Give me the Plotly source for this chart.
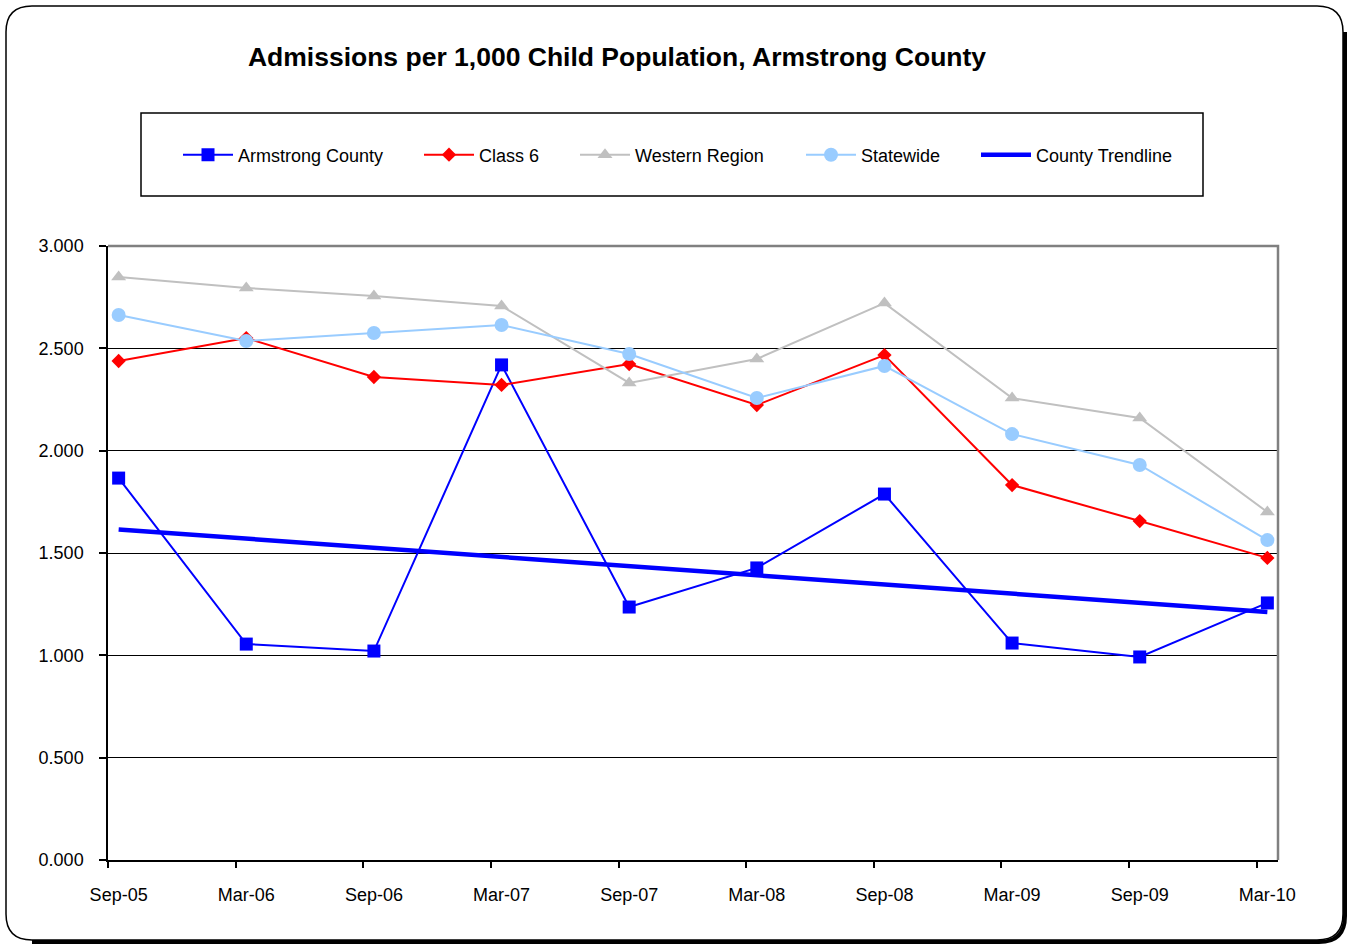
import plotly.graph_objects as go

# ---------------- data ----------------
categories = ["Sep-05", "Mar-06", "Sep-06", "Mar-07", "Sep-07",
              "Mar-08", "Sep-08", "Mar-09", "Sep-09", "Mar-10"]
armstrong = [1.866, 1.055, 1.021, 2.419, 1.236, 1.427, 1.788, 1.060, 0.992, 1.256]
class6 = [2.438, 2.550, 2.360, 2.321, 2.423, 2.223, 2.467, 1.832, 1.656, 1.476]
western = [2.849, 2.795, 2.756, 2.707, 2.331, 2.448, 2.721, 2.257, 2.160, 1.700]
statewide = [2.663, 2.536, 2.575, 2.614, 2.472, 2.257, 2.414, 2.081, 1.930, 1.563]
trend_cats = ["Sep-05", "Mar-10"]
trend_vals = [1.615, 1.212]
y_ticks = [0, 0.5, 1.0, 1.5, 2.0, 2.5, 3.0]

# ---------------- geometry helpers (pixel -> paper) ----------------
W, H = 1354, 947
L, R, T, B = 108, 1278, 246, 860


def X(px):
    return (px - L) / (R - L)


def Y(py):
    return (B - py) / (B - T)


x_idx = list(range(len(categories)))
trend_x = [categories.index(c) for c in trend_cats]

FONT = "Arial, Liberation Sans, sans-serif"

fig = go.Figure()
fig.add_trace(go.Scatter(
    x=x_idx, y=armstrong, name="Armstrong County", mode="lines+markers",
    line=dict(color="#0000FF", width=2),
    marker=dict(symbol="square", size=13, color="#0000FF"),
    legend="legend"))
fig.add_trace(go.Scatter(
    x=x_idx, y=class6, name="Class 6", mode="lines+markers",
    line=dict(color="#FF0000", width=2),
    marker=dict(symbol="diamond", size=11, color="#FF0000"),
    legend="legend2"))
fig.add_trace(go.Scatter(
    x=x_idx, y=western, name="Western Region", mode="lines+markers",
    line=dict(color="#C0C0C0", width=2),
    marker=dict(symbol="triangle-up", size=13, color="#C0C0C0"),
    legend="legend3"))
fig.add_trace(go.Scatter(
    x=x_idx, y=statewide, name="Statewide", mode="lines+markers",
    line=dict(color="#99CCFF", width=2),
    marker=dict(symbol="circle", size=14, color="#99CCFF"),
    legend="legend4"))
fig.add_trace(go.Scatter(
    x=trend_x, y=trend_vals, name="County Trendline", mode="lines",
    line=dict(color="#0000FF", width=4.5),
    legend="legend5"))

ITEMW = 50
leg_common = dict(orientation="h", yanchor="middle", xanchor="left",
                  y=Y(155), bgcolor="rgba(0,0,0,0)", borderwidth=0,
                  itemwidth=ITEMW,
                  font=dict(family=FONT, size=18, color="black"))
text_starts = [238, 479, 635, 861, 1036]
legends = {}
for i, ts in enumerate(text_starts):
    key = "legend" if i == 0 else f"legend{i+1}"
    legends[key] = dict(leg_common, x=X(ts - (ITEMW + 10)))


def rounded_path(x0, y0, x1, y1, r):
    return (f"M {X(x0 + r)},{Y(y0)} L {X(x1 - r)},{Y(y0)} "
            f"Q {X(x1)},{Y(y0)} {X(x1)},{Y(y0 + r)} "
            f"L {X(x1)},{Y(y1 - r)} Q {X(x1)},{Y(y1)} {X(x1 - r)},{Y(y1)} "
            f"L {X(x0 + r)},{Y(y1)} Q {X(x0)},{Y(y1)} {X(x0)},{Y(y1 - r)} "
            f"L {X(x0)},{Y(y0 + r)} Q {X(x0)},{Y(y0)} {X(x0 + r)},{Y(y0)} Z")


rr = 26
shapes = [
    # outer chart frame
    dict(type="path", xref="paper", yref="paper",
         path=rounded_path(6, 6, 1343, 940, rr),
         line=dict(color="black", width=1.5), layer="below"),
    # frame shadow right/bottom
    dict(type="path", xref="paper", yref="paper",
         path=(f"M {X(1345)},{Y(6 + rr)} L {X(1345)},{Y(942 - rr)} "
               f"Q {X(1345)},{Y(942)} {X(1345 - rr)},{Y(942)} L {X(6 + rr)},{Y(942)}"),
         line=dict(color="black", width=4), layer="below"),
    # legend box
    dict(type="rect", xref="paper", yref="paper",
         x0=X(141), x1=X(1203), y0=Y(196), y1=Y(113),
         line=dict(color="black", width=1.5), layer="below"),
    # grey plot-area border (top / right)
    dict(type="path", xref="paper", yref="paper",
         path=f"M {X(L)},{Y(T)} L {X(R)},{Y(T)} L {X(R)},{Y(B)}",
         line=dict(color="#808080", width=2.5), layer="above"),
]

fig.update_layout(
    width=W, height=H,
    margin=dict(l=L, r=W - R, t=T, b=H - B, autoexpand=False),
    paper_bgcolor="white", plot_bgcolor="white",
    font=dict(family=FONT, size=18, color="black"),
    title=dict(text="<b>Admissions per 1,000 Child Population, Armstrong County</b>",
               x=617 / W, xanchor="center", xref="container",
               y=1 - 57 / H, yanchor="middle", yref="container",
               font=dict(family=FONT, size=26.5, color="black")),
    shapes=shapes,
    showlegend=True,
    **legends,
)

fig.update_xaxes(
    type="linear", range=[-1 / 12, 9 + 1 / 12],
    tickmode="array", tickvals=x_idx, ticktext=categories,
    ticks="", showgrid=False, zeroline=False,
    showline=True, linecolor="black", linewidth=1.5,
    tickfont=dict(family=FONT, size=18, color="black"),
    ticklabelstandoff=18,
    minor=dict(tickmode="array", tickvals=[i - 1 / 12 for i in x_idx],
               ticks="outside", ticklen=6, tickwidth=1.5, tickcolor="black",
               showgrid=False),
)
fig.update_yaxes(
    range=[0, 3], tickmode="array", tickvals=y_ticks, tickformat=".3f",
    showgrid=True, gridcolor="black", gridwidth=1,
    zeroline=False, showline=True, linecolor="black", linewidth=1.5,
    ticks="outside", ticklen=7, tickcolor="black", tickwidth=1.5,
    tickfont=dict(family=FONT, size=18, color="black"),
    ticklabelstandoff=12,
)

fig.write_html("out.html")
